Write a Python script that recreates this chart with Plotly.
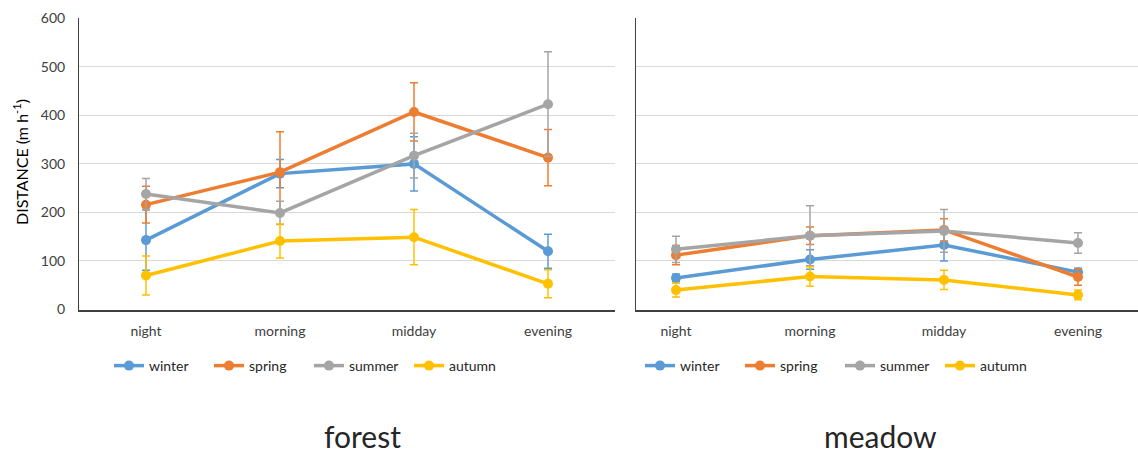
import plotly.graph_objects as go

# Time-of-day categories
periods = ["night", "morning", "midday", "evening"]
seasons = ["winter", "spring", "summer", "autumn"]
colors = {"winter": "#5B9BD5", "spring": "#ED7D31", "summer": "#A5A5A5", "autumn": "#FFC000"}

# Mean travel distance (m h-1) and error, forest habitat
forest_winter = [143, 280, 300, 120]
forest_winter_err = [62, 29, 56, 35]
forest_spring = [216, 283, 407, 313]
forest_spring_err = [38, 83, 60, 58]
forest_summer = [238, 199, 317, 423]
forest_summer_err = [32, 24, 46, 108]
forest_autumn = [70, 141, 149, 53]
forest_autumn_err = [40, 35, 57, 29]

# Mean travel distance (m h-1) and error, meadow habitat
meadow_winter = [65, 103, 133, 77]
meadow_winter_err = [8, 20, 33, 8]
meadow_spring = [112, 152, 164, 67]
meadow_spring_err = [20, 18, 23, 17]
meadow_summer = [124, 152, 162, 137]
meadow_summer_err = [27, 62, 44, 21]
meadow_autumn = [40, 68, 61, 30]
meadow_autumn_err = [14, 20, 20, 10]

forest = {
    "winter": (forest_winter, forest_winter_err),
    "spring": (forest_spring, forest_spring_err),
    "summer": (forest_summer, forest_summer_err),
    "autumn": (forest_autumn, forest_autumn_err),
}
meadow = {
    "winter": (meadow_winter, meadow_winter_err),
    "spring": (meadow_spring, meadow_spring_err),
    "summer": (meadow_summer, meadow_summer_err),
    "autumn": (meadow_autumn, meadow_autumn_err),
}

W, H = 1138, 452
FONT = "Lato"
TXT = "#404040"

fig = go.Figure()

for panel, xa, ya, lg in [(forest, "x", "y", "legend"), (meadow, "x2", "y2", "legend2")]:
    for s in seasons:
        vals, errs = panel[s]
        fig.add_trace(go.Scatter(
            x=periods, y=vals, name=s, xaxis=xa, yaxis=ya, legend=lg,
            mode="lines+markers",
            line=dict(color=colors[s], width=3.5),
            marker=dict(color=colors[s], size=10),
            error_y=dict(type="data", array=errs, visible=True,
                         color=colors[s], thickness=1.5, width=4),
        ))

y_dom = [1 - 309.5 / H, 1 - 18.3 / H]
axis_common = dict(
    type="category", categoryorder="array", categoryarray=periods,
    showline=True, linecolor="#404040", linewidth=1.5, ticks="",
    showgrid=False, zeroline=False,
    tickfont=dict(family=FONT, size=14, color=TXT), ticklabelstandoff=8,
)
yaxis_common = dict(
    range=[0, 600], dtick=100, showgrid=True, gridcolor="#D9D9D9", gridwidth=1,
    showline=True, linecolor="#404040", linewidth=1, zeroline=False, ticks="",
    tickfont=dict(family=FONT, size=14, color=TXT), domain=y_dom,
)
legend_common = dict(
    orientation="h", xanchor="left", y=1 - 366 / H, yanchor="middle",
    font=dict(family=FONT, size=14, color="#262626"), bgcolor="rgba(0,0,0,0)",
    entrywidthmode="pixels", entrywidth=55,
)

fig.update_layout(
    width=W, height=H,
    margin=dict(l=0, r=0, t=0, b=0, autoexpand=False),
    paper_bgcolor="white", plot_bgcolor="white",
    font=dict(family=FONT, color=TXT),
    xaxis=dict(axis_common, domain=[79 / W, 615 / W], range=[-0.5, 3.5], anchor="y"),
    yaxis=dict(yaxis_common, anchor="x", ticklabelstandoff=10),
    xaxis2=dict(axis_common, domain=[636 / W, 1.0],
                range=[-40 / 134, (1138 - 676) / 134], anchor="y2"),
    yaxis2=dict(yaxis_common, anchor="x2", showticklabels=False),
    legend=dict(legend_common, x=109 / W),
    legend2=dict(legend_common, x=640 / W),
    annotations=[
        dict(text="DISTANCE (m h<sup>-1</sup>)", textangle=-90, x=20 / W, y=1 - 162 / H,
             xanchor="center", yanchor="middle",
             xref="paper", yref="paper", showarrow=False,
             font=dict(family=FONT, size=16, color="#000000")),
        dict(text="forest", x=362 / W, y=1 - 436 / H, xanchor="center", yanchor="middle",
             xref="paper", yref="paper",
             showarrow=False, font=dict(family=FONT, size=30, color="#262626")),
        dict(text="meadow", x=880 / W, y=1 - 436 / H, xanchor="center", yanchor="middle",
             xref="paper", yref="paper",
             showarrow=False, font=dict(family=FONT, size=30, color="#262626")),
    ],
)

fig.write_html("out.html")
